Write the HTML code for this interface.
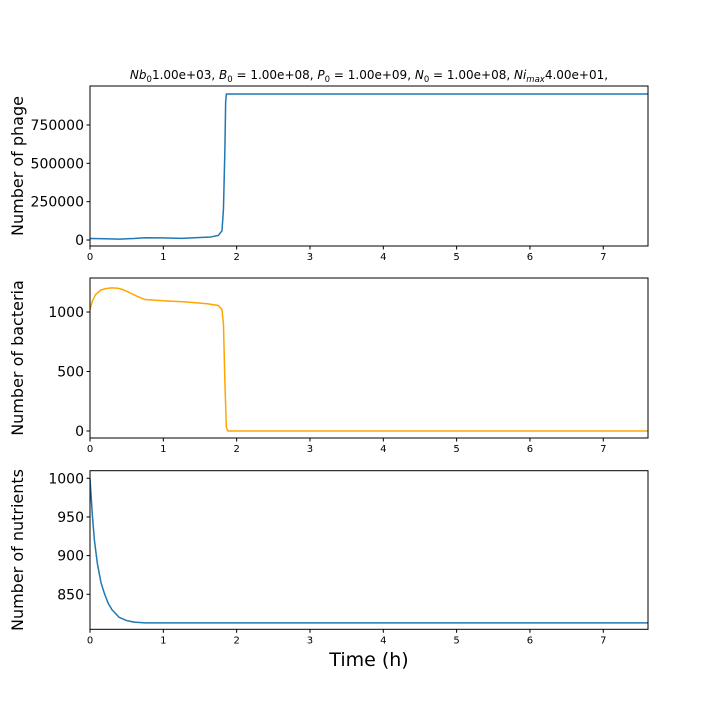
<!DOCTYPE html>
<html><head><meta charset="utf-8"><style>
html,body{margin:0;padding:0;background:#fff;}
svg{display:block;font-family:"DejaVu Sans","Liberation Sans",sans-serif;}
</style></head><body>
<svg id="chart" width="720" height="720" viewBox="0 0 720 720">
<text x="369" y="79" font-size="12" text-anchor="middle"><tspan font-style="italic">Nb</tspan><tspan font-size="8.5" dy="3">0</tspan><tspan dy="-3">1.00e+03, </tspan><tspan font-style="italic">B</tspan><tspan font-size="8.5" dy="3">0</tspan><tspan dy="-3"> = 1.00e+08, </tspan><tspan font-style="italic">P</tspan><tspan font-size="8.5" dy="3">0</tspan><tspan dy="-3"> = 1.00e+09, </tspan><tspan font-style="italic">N</tspan><tspan font-size="8.5" dy="3">0</tspan><tspan dy="-3"> = 1.00e+08, </tspan><tspan font-style="italic">Ni</tspan><tspan font-size="8.5" font-style="italic" dy="3">max</tspan><tspan dy="-3">4.00e+01,</tspan></text>
<text x="369" y="666" font-size="19" text-anchor="middle">Time (h)</text>
</svg>
<script>
const xTicks=[0,1,2,3,4,5,6,7];
const phageT=[0,0.2,0.4,0.6,0.75,1.0,1.25,1.5,1.65,1.75,1.8,1.82,1.84,1.85,1.86,1.88,7.65];
const phageV=[10000,8000,6000,10000,15000,14000,11000,16000,20000,30000,60000,200000,600000,900000,952000,952000,952000];
const phageTicks=[0,250000,500000,750000];
const bactT=[0,0.03,0.08,0.15,0.22,0.3,0.38,0.45,0.55,0.65,0.75,1.0,1.3,1.6,1.75,1.8,1.82,1.84,1.86,1.88,7.65];
const bactV=[1020,1090,1150,1185,1198,1203,1200,1188,1160,1130,1105,1095,1085,1070,1055,1020,900,400,30,0,0];
const bactTicks=[0,500,1000];
const nutT=[0,0.03,0.06,0.1,0.15,0.2,0.25,0.3,0.4,0.5,0.6,0.75,1.0,7.65];
const nutV=[1000,955,920,890,865,850,838,830,820,816,814,813,813,813];
const nutTicks=[850,900,950,1000];

const NS='http://www.w3.org/2000/svg';
const svg=document.getElementById('chart');
const X0=90,X1=648,XMAX=7.61;
const sx=t=>X0+t/XMAX*(X1-X0);
function mk(tag,attrs,parent){const e=document.createElementNS(NS,tag);for(const k in attrs)e.setAttribute(k,attrs[k]);(parent||svg).appendChild(e);return e;}
const defs=mk('defs',{});
function panel(name,top,bottom,ymin,ymax,ts,vs,ticks,color,label){
  const g=mk('g',{});
  
  
  const cp=mk('clipPath',{id:'clip-'+name},defs);
  mk('rect',{x:X0,y:top,width:X1-X0,height:bottom-top},cp);
  const sy=v=>bottom-(v-ymin)/(ymax-ymin)*(bottom-top);
  const d=ts.map((t,i)=>(i?'L':'M')+sx(t).toFixed(2)+','+sy(vs[i]).toFixed(2)).join('');
  const p=mk('path',{d:d,fill:'none',stroke:color,'stroke-width':1.5,'stroke-linejoin':'round','clip-path':'url(#clip-'+name+')'},g);
  
  
  const r=mk('rect',{x:X0,y:top,width:X1-X0,height:bottom-top,fill:'none',stroke:'#000','stroke-width':1},g);
  
  
  xTicks.forEach(t=>{
    const x=sx(t);
    mk('line',{x1:x,x2:x,y1:bottom,y2:bottom+3.5,stroke:'#000'},g);
    const tx=mk('text',{x:x,y:bottom+14,'font-size':10,'text-anchor':'middle'},g);
    tx.textContent=t;
    
    
  });
  ticks.forEach(v=>{
    const y=sy(v);
    mk('line',{x1:X0-3.5,x2:X0,y1:y,y2:y,stroke:'#000'},g);
    const tx=mk('text',{x:X0-6,y:y+5,'font-size':14,'text-anchor':'end'},g);
    tx.textContent=v;
    
    
  });
  const cy=(top+bottom)/2;
  const lb=mk('text',{x:23,y:cy,'font-size':16,'text-anchor':'middle',transform:'rotate(-90 23 '+cy+')'},g);
  lb.textContent=label;
  
  
}
panel('phage',86,246,-39000,1004000,phageT,phageV,phageTicks,'#1f77b4','Number of phage');
panel('bacteria',278,438,-59,1286,bactT,bactV,bactTicks,'#ffa500','Number of bacteria');
panel('nutrients',470.7,629.3,804.7,1009.8,nutT,nutV,nutTicks,'#1f77b4','Number of nutrients');
</script>
</body></html>
